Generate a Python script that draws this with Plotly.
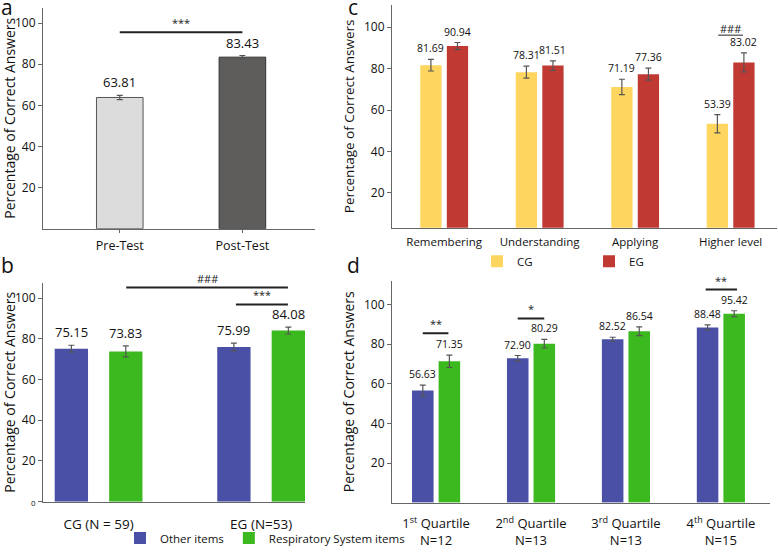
import plotly.graph_objects as go

W, H = 778, 553
FONT = "Open Sans"

# panel a: pre / post test
test_labels = ["Pre-Test", "Post-Test"]
test_scores = [63.81, 83.43]
test_err = [1.0, 0.8]

# panel b: groups, other items vs respiratory system items
group_labels = ["CG (N = 59)", "EG (N=53)"]
other_items = [75.15, 75.99]
other_err = [1.7, 1.9]
resp_items = [73.83, 84.08]
resp_err = [2.7, 1.7]

# panel c: bloom levels CG vs EG
bloom_labels = ["Remembering", "Understanding", "Applying", "Higher level"]
cg_scores = [81.69, 78.31, 71.19, 53.39]
cg_err = [2.8, 2.9, 3.7, 4.4]
eg_scores = [90.94, 81.51, 77.36, 83.02]
eg_err = [1.7, 2.3, 2.9, 4.6]

# panel d: quartiles
quartile_labels = ["1<sup>st</sup> Quartile<br>N=12", "2<sup>nd</sup> Quartile<br>N=13",
                   "3<sup>rd</sup> Quartile<br>N=13", "4<sup>th</sup> Quartile<br>N=15"]
q_other = [56.63, 72.90, 82.52, 88.48]
q_other_err = [2.75, 1.4, 1.0, 1.3]
q_resp = [71.35, 80.29, 86.54, 95.42]
q_resp_err = [3.1, 2.2, 2.2, 1.5]

# significance marks: axis suffix, x from, x to, y, label
sig_marks = [
    ("", -0.0, 1.0, 95.6, "***"),
    ("2", 0.17, 1.165, 105.2, "###"),
    ("2", 0.845, 1.165, 96.9, "***"),
    ("4", -0.14, 0.13, 85.5, "**"),
    ("4", 0.86, 1.14, 93.0, "*"),
    ("4", 2.84, 3.17, 107.6, "**"),
]

BLUE = "#4a50a6"
GREEN = "#3cb91e"
YELLOW = "#fdd55f"
RED = "#c03933"
AXIS = "#666666"


def px(x):
    return x / W


def py(y):
    return 1 - y / H


fig = go.Figure()


def add_bars(sfx, values, errs, color, offset, width, label_size, name=None,
             legend="legend", show=False, line_color=None):
    xs = list(range(len(values)))
    fig.add_trace(go.Bar(
        x=xs, y=values, offset=offset, width=width, name=name,
        marker=dict(color=color,
                    line=dict(color=line_color or "rgba(0,0,0,0)", width=1 if line_color else 0)),
        error_y=dict(type="data", array=errs, color="#555", thickness=1.2, width=3),
        xaxis="x" + sfx, yaxis="y" + sfx, showlegend=show, legend=legend,
    ))
    for i, (v, e) in enumerate(zip(values, errs)):
        fig.add_annotation(x=i + offset + width / 2, y=v + e, xref="x" + sfx, yref="y" + sfx,
                           text=f"{v:.2f}", showarrow=False, yanchor="bottom", yshift=2,
                           font=dict(size=label_size, color="#111"))


# a
add_bars("", test_scores, test_err, ["#dcdcdc", "#5f5c5c"], -0.19, 0.38, 13,
         line_color=["#555", "#333"])
# b
add_bars("2", other_items, other_err, BLUE, -0.27, 0.205, 13, name="Other items", show=True)
add_bars("2", resp_items, resp_err, GREEN, 0.065, 0.205, 13, name="Respiratory System items", show=True)
# c
add_bars("3", cg_scores, cg_err, YELLOW, -0.25, 0.223, 10.5, name="CG", legend="legend2", show=True)
add_bars("3", eg_scores, eg_err, RED, 0.028, 0.223, 10.5, name="EG", legend="legend2", show=True)
# d
add_bars("4", q_other, q_other_err, BLUE, -0.253, 0.227, 10.5)
add_bars("4", q_resp, q_resp_err, GREEN, 0.027, 0.227, 10.5)

for sfx, x0, x1, y, label in sig_marks:
    fig.add_shape(type="line", x0=x0, x1=x1, y0=y, y1=y, xref="x" + sfx, yref="y" + sfx,
                  line=dict(color="#222", width=2))
    fig.add_annotation(x=(x0 + x1) / 2, y=y, xref="x" + sfx, yref="y" + sfx, text=label,
                       showarrow=False, yanchor="bottom", yshift=0, font=dict(size=11, color="#222"))

# underlined ### above higher level
fig.add_shape(type="line", x0=2.87, x1=3.13, y0=96.2, y1=96.2, xref="x3", yref="y3",
              line=dict(color="#222", width=1))
fig.add_annotation(x=3.0, y=96.2, xref="x3", yref="y3", text="###", showarrow=False,
                   yanchor="bottom", yshift=-3, font=dict(size=11, color="#222"))

# panel letters
for letter, x, y in [("a", 7, 7), ("b", 7, 269), ("c", 353, 7), ("d", 353, 269)]:
    fig.add_annotation(x=px(x), y=py(y), xref="paper", yref="paper", text=letter,
                       showarrow=False, xanchor="center", yanchor="middle",
                       font=dict(size=21, color="#111"))


def xax(domain, rng, labels, anchor, size, standoff, ticks=""):
    return dict(domain=domain, range=rng, anchor=anchor, tickvals=list(range(len(labels))),
                ticktext=labels, showline=True, linecolor=AXIS, linewidth=1, ticks=ticks,
                ticklen=3, tickcolor=AXIS, showgrid=False, zeroline=False,
                ticklabelstandoff=standoff, tickfont=dict(size=size, color="#111"))


def yax(domain, rng, anchor, ticktext=None, title_size=14):
    return dict(domain=domain, range=rng, anchor=anchor,
                tickvals=[0, 20, 40, 60, 80, 100] if ticktext else [20, 40, 60, 80, 100],
                ticktext=ticktext, showline=True, linecolor=AXIS, linewidth=1, ticks="outside",
                ticklen=4, tickcolor=AXIS, showgrid=False, zeroline=False,
                tickfont=dict(size=12, color="#111"),
                title=dict(text="Percentage of Correct Answers", standoff=6,
                           font=dict(size=title_size, color="#111")))


fig.update_layout(
    width=W, height=H, margin=dict(l=0, r=0, t=0, b=0),
    paper_bgcolor="white", plot_bgcolor="white", barmode="overlay",
    font=dict(family=FONT, color="#111"),
    xaxis=xax([px(43), px(315)], [-0.626, 1.592], test_labels, "y", 12.5, 2, ticks="outside"),
    yaxis=yax([py(232), py(8)], [0, 107.4], "x"),
    xaxis2=xax([px(43), px(305)], [-0.342, 1.27], group_labels, "y2", 13.5, 10),
    yaxis2=yax([py(509), py(287)], [0, 107.5], "x2",
               ticktext=["<span style='font-size:8px'>0</span>", "20", "40", "60", "80", "100"]),
    xaxis3=xax([px(392), px(777)], [-0.546, 3.486], bloom_labels, "y3", 11.5, 4),
    yaxis3=yax([py(231), py(5)], [3.2, 110.8], "x3", title_size=13.5),
    xaxis4=xax([px(392), px(770)], [-0.464, 3.518], quartile_labels, "y4", 13, 9),
    yaxis4=yax([py(510), py(285)], [0, 112], "x4"),
    legend=dict(orientation="h", x=px(120), y=py(546), xanchor="left", yanchor="middle",
                font=dict(size=11.5), bgcolor="rgba(0,0,0,0)"),
    legend2=dict(orientation="h", x=px(477), y=py(265), xanchor="left", yanchor="middle",
                 entrywidth=67, font=dict(size=11.5), bgcolor="rgba(0,0,0,0)"),
)

# drop the default body margin so the figure sits at the page corner
fig.write_html("out.html", config={"displayModeBar": False},
               post_script="document.body.style.margin='0px';")
